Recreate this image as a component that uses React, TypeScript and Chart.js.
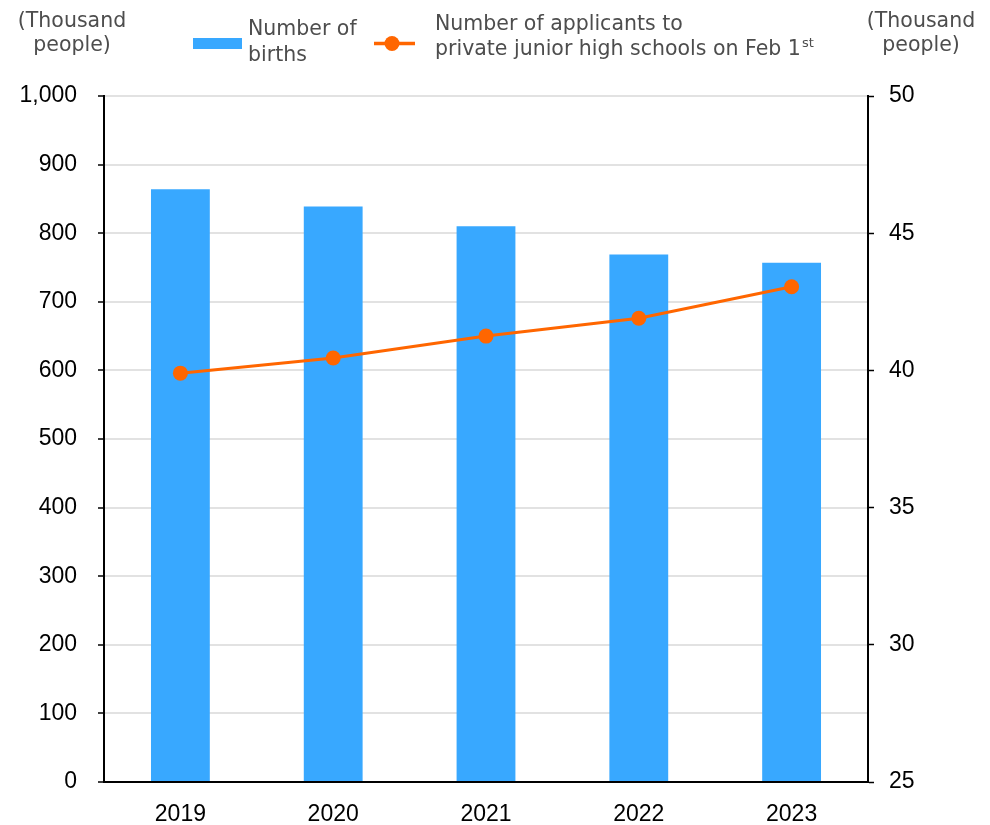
import React, { useEffect, useRef } from "react";
import { Chart, registerables } from "chart.js";

Chart.register(...registerables);

const years = ["2019", "2020", "2021", "2022", "2023"];
const births = [864, 839, 810, 769, 757];
const applicants = [39.9, 40.45, 41.25, 41.9, 43.05];
const leftTicks = { min: 0, max: 1000, step: 100 };
const rightTicks = { min: 25, max: 50, step: 5 };

const BAR_COLOR = "#38a8ff";
const LINE_COLOR = "#ff6600";
const TEXT_GRAY = "#4d4d4d";
const LEG_FONT = '20.5px "DejaVu Sans"';
const TICK_FONT = { family: '"Liberation Sans", Arial, sans-serif', size: 23 };

const headerPlugin = {
  id: "header",
  afterDraw(chart: any) {
    const ctx = chart.ctx as CanvasRenderingContext2D;
    ctx.save();
    ctx.fillStyle = TEXT_GRAY;
    ctx.font = LEG_FONT;
    ctx.textBaseline = "alphabetic";
    // axis titles
    ctx.textAlign = "center";
    ctx.fillText("(Thousand", 72, 27);
    ctx.fillText("people)", 72, 51);
    ctx.fillText("(Thousand", 921, 27);
    ctx.fillText("people)", 921, 51);
    // legend: bars
    ctx.fillStyle = BAR_COLOR;
    ctx.fillRect(193, 38, 49, 11);
    ctx.fillStyle = TEXT_GRAY;
    ctx.textAlign = "left";
    ctx.fillText("Number of", 248, 35);
    ctx.fillText("births", 248, 61);
    // legend: line
    ctx.strokeStyle = LINE_COLOR;
    ctx.lineWidth = 3.5;
    ctx.beginPath();
    ctx.moveTo(374, 43.5);
    ctx.lineTo(415, 43.5);
    ctx.stroke();
    ctx.fillStyle = LINE_COLOR;
    ctx.beginPath();
    ctx.arc(392, 43.5, 7.5, 0, Math.PI * 2);
    ctx.fill();
    ctx.fillStyle = TEXT_GRAY;
    ctx.fillText("Number of applicants to", 435, 30);
    const line2 = "private junior high schools on Feb 1";
    ctx.fillText(line2, 435, 55);
    const w = ctx.measureText(line2).width;
    ctx.font = '13px "DejaVu Sans"';
    ctx.fillText("st", 435 + w + 1, 47);
    ctx.restore();
  },
};

export default function App() {
  const ref = useRef<HTMLCanvasElement>(null);
  useEffect(() => {
    document.body.style.margin = "0";
    const chart = new Chart(ref.current as HTMLCanvasElement, {
      type: "bar",
      data: {
        labels: years,
        datasets: [
          {
            type: "line",
            label: "Number of applicants to private junior high schools on Feb 1st",
            data: applicants,
            yAxisID: "y1",
            borderColor: LINE_COLOR,
            backgroundColor: LINE_COLOR,
            borderWidth: 3,
            pointRadius: 7.5,
            pointBorderWidth: 0,
            pointBackgroundColor: LINE_COLOR,
            tension: 0,
            order: 0,
          } as any,
          {
            type: "bar",
            label: "Number of births",
            data: births,
            yAxisID: "y",
            backgroundColor: BAR_COLOR,
            borderWidth: 0,
            barPercentage: 0.385,
            categoryPercentage: 1,
            order: 1,
          },
        ],
      },
      options: {
        animation: false,
        responsive: false,
        maintainAspectRatio: false,
        layout: { padding: { top: 96, left: 0, right: 0, bottom: 0 } },
        plugins: { legend: { display: false }, tooltip: { enabled: false } },
        scales: {
          x: {
            grid: { display: false, drawTicks: false },
            border: { color: "#000", width: 2 },
            ticks: { color: "#000", font: TICK_FONT, padding: 19 },
            afterFit: (s: any) => {
              s.height = 43;
            },
          },
          y: {
            position: "left",
            min: leftTicks.min,
            max: leftTicks.max,
            ticks: {
              stepSize: leftTicks.step,
              color: "#000",
              font: TICK_FONT,
              padding: 21,
              callback: (v: any) => Number(v).toLocaleString("en-US"),
            },
            grid: {
              color: "#e2e2e2",
              lineWidth: 2,
              tickColor: "#000",
              tickLength: 6,
              tickWidth: 1.5,
            },
            border: { color: "#000", width: 2 },
            afterFit: (s: any) => {
              s.width = 104;
            },
          },
          y1: {
            position: "right",
            min: rightTicks.min,
            max: rightTicks.max,
            ticks: {
              stepSize: rightTicks.step,
              color: "#000",
              font: TICK_FONT,
              padding: 15,
            },
            grid: {
              drawOnChartArea: false,
              tickColor: "#000",
              tickLength: 6,
              tickWidth: 1.5,
            },
            border: { color: "#000", width: 2 },
            afterFit: (s: any) => {
              s.width = 122;
            },
          },
        },
      },
      plugins: [headerPlugin],
    });
    return () => chart.destroy();
  }, []);
  return <canvas ref={ref} width={990} height={825} style={{ display: "block" }} />;
}
